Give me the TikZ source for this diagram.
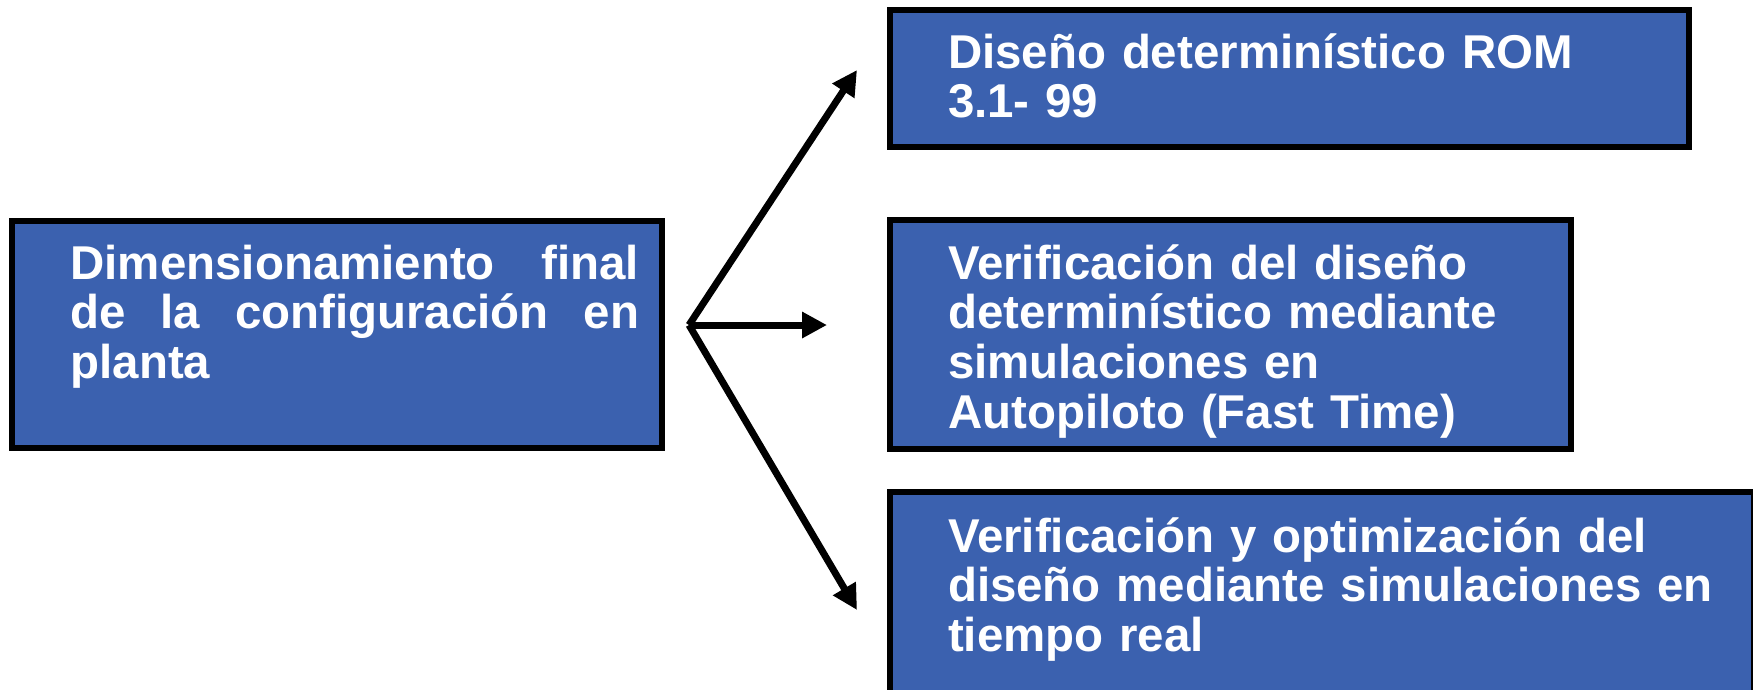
\documentclass[tikz,border=0pt]{standalone}
\usepackage{fontspec}
\setmainfont{Liberation Sans}
\usetikzlibrary{arrows.meta}
\definecolor{panelblue}{RGB}{59,97,175}

\begin{document}
\begin{tikzpicture}[x=1mm, y=-1mm, panel/.style = {draw, line width=0.6mm, fill=panelblue, text=white, inner sep=0pt, anchor=north west,
					font=\fontsize{13.5}{14.2}\selectfont\bfseries},
					arr/.style = {line width=0.7mm, -{Triangle[length=2.5mm, width=2.5mm]}}]

					\useasboundingbox (0,0) rectangle (175.3,68.9);

					\node[panel, align=justify, text width=65.05mm, text height=5.8mm, text depth=16.9mm,
						execute at begin node={\leftskip=5.9mm\rightskip=2.3mm}] (dim) at (0.85,21.8)
						{Dimensionamiento final\linebreak de la configuración en\linebreak planta};
					\node[panel, align=left, text width=79.9mm, text height=5.8mm, text depth=7.9mm,
						execute at begin node={\leftskip=5.8mm}] (rom) at (88.7,0.7)
						{Diseño determinístico ROM\\ 3.1- 99};
					\node[panel, align=left, text width=68.1mm, text height=5.9mm, text depth=17.0mm,
						execute at begin node={\leftskip=5.8mm}] (fast) at (88.7,21.7)
						{Verificación del diseño\\ determinístico mediante\\ simulaciones en\\ Autopiloto (Fast Time)};
					\node[panel, align=left, text width=86.4mm, text height=6.0mm, text depth=16.2mm,
						execute at begin node={\leftskip=5.8mm}] (real) at (88.7,48.9)
						{Verificación y optimización del\\ diseño mediante simulaciones en\\ tiempo real};

					\coordinate (fork) at (68.9,32.5);
					\coordinate (toRom) at (85.7,7.0);
					\coordinate (toFast) at (82.7,32.5);
					\coordinate (toReal) at (85.7,61.0);

					\draw[arr] (fork) -- (toRom);
					\draw[arr] (fork) -- (toFast);
					\draw[arr] (fork) -- (toReal);

				\end{tikzpicture}
\end{document}
